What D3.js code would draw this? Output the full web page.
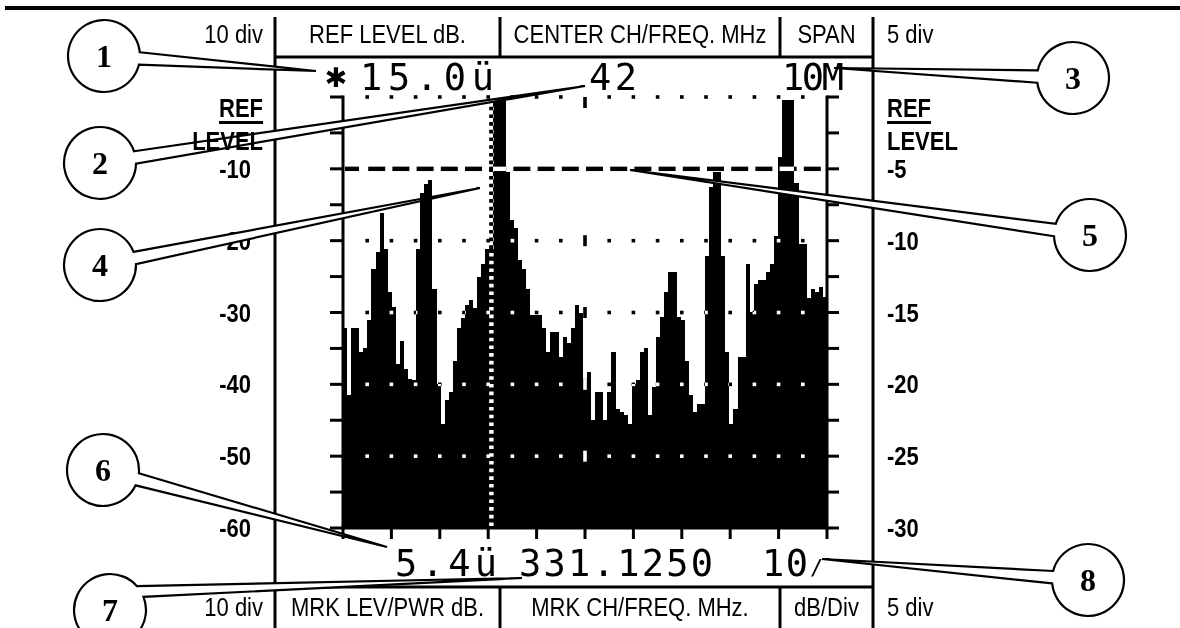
<!DOCTYPE html>
<html>
<head>
<meta charset="utf-8">
<script src="https://cdn.jsdelivr.net/npm/d3@7"></script>
<style>
  html, body { margin: 0; padding: 0; background: #fff; }
  svg { display: block; }
</style>
</head>
<body>
<div id="chart"></div>
<script>
// spectrum trace, dB relative to reference level, one value per LCD column
const levels = [
  -32.2, -41.5, -32.2, -32.2, -35.5, -34.9, -31.1, -23.9, -21.6, -16.1,
  -21.1, -27.1, -29.2, -37.1, -33.9, -37.8, -39.2, -39.4, -21.1, -13.4,
  -12.1, -11.5, -26.7, -39.9, -45.5, -42.2, -41.1, -36.7, -32.2, -30.8,
  -29.0, -28.3, -29.4, -25.0, -23.2, -21.1, -21.1, -0.4, -0.4, -0.4,
  -10.4, -17.1, -18.3, -22.7, -23.9, -26.7, -30.4, -30.4, -30.4, -32.2,
  -35.5, -32.7, -32.7, -36.2, -33.4, -34.3, -32.2, -29.0, -30.0, -39.2,
  -38.3, -45.0, -41.0, -41.0, -45.0, -41.0, -35.5, -43.4, -43.9, -44.3,
  -45.5, -39.9, -39.4, -35.5, -35.0, -44.3, -40.4, -33.4, -30.6, -27.1,
  -24.3, -24.3, -30.6, -31.1, -36.7, -41.5, -43.9, -42.7, -42.7, -22.2,
  -12.5, -10.4, -10.4, -22.2, -35.5, -45.5, -43.4, -36.2, -36.2, -23.2,
  -29.9, -26.0, -25.5, -25.5, -24.3, -23.2, -19.4, -8.3, -0.4, -0.4,
  -0.4, -12.0, -20.4, -20.4, -28.0, -26.7, -27.1, -26.5, -27.8
];

const leftTicks = [-10, -20, -30, -40, -50, -60];   // 10 dB/div scale
const rightTicks = [-5, -10, -15, -20, -25, -30];   // 5 dB/div scale
const dottedRows = [0, -20, -30, -40, -50];
const dashedRow = -10;
const markerDiv = 3.066;                            // marker position, in divisions

const headerTop = ["REF LEVEL dB.", "CENTER CH/FREQ. MHz", "SPAN"];
const headerBottom = ["MRK LEV/PWR dB.", "MRK CH/FREQ. MHz.", "dB/Div"];
const divLabels = ["10 div", "5 div"];
const refLabel = ["REF", "LEVEL"];
const lcdTop = ["15.0\u00fc", "42", "10M"];
const lcdBottom = ["5.4\u00fc", "331.1250", "10"];
const calloutNumbers = ["1", "2", "3", "4", "5", "6", "7", "8"];

// ---- layout ----
const W = 1180, H = 628;
const plot = { left: 343, right: 827, top: 97, bottom: 528 };
const frame = { left: 275, right: 873, sepA: 500, sepB: 780, headTop: 17, headLine: 57, footLine: 587 };

// where each callout circle sits, what it points at, and a turn (deg) of where the pointer leaves the circle
const calloutLayout = [
  { cx: 104, cy: 56, tx: 316, ty: 71, turn: 0 },
  { cx: 100, cy: 163, tx: 585, ty: 86, turn: 0 },
  { cx: 1073, cy: 78, tx: 834, ty: 68, turn: 0 },
  { cx: 100, cy: 265, tx: 480, ty: 188, turn: 0 },
  { cx: 1090, cy: 235, tx: 630, ty: 170, turn: 0 },
  { cx: 103, cy: 470, tx: 387, ty: 547, turn: 0 },
  { cx: 110, cy: 610, tx: 522, ty: 578, turn: -27 },
  { cx: 1088, cy: 580, tx: 822, ty: 559, turn: 0 }
];

const sansFont = "'Liberation Sans', Arial, Helvetica, sans-serif";
const lcdFont = "'DejaVu Sans Mono', 'Liberation Mono', monospace";

const svg = d3.select("#chart").append("svg")
  .attr("width", W)
  .attr("height", H);

svg.append("rect").attr("width", W).attr("height", H).attr("fill", "#fff");

// scales
const x = d3.scaleLinear().domain([0, levels.length]).range([plot.left, plot.right]);
const xDiv = d3.scaleLinear().domain([0, 10]).range([plot.left, plot.right]);
const y = d3.scaleLinear().domain([-60, 0]).range([plot.bottom, plot.top]);
const y2 = d3.scaleLinear().domain([-30, 0]).range([plot.bottom, plot.top]);

// condensed sans text helper
function label(g, txt, px, py, opts = {}) {
  return g.append("text")
    .attr("transform", `translate(${px},${py}) scale(${opts.sx || 0.88},1)`)
    .attr("text-anchor", opts.anchor || "start")
    .attr("dy", opts.dy || null)
    .style("font-family", sansFont)
    .style("font-size", (opts.size || 25) + "px")
    .style("font-weight", opts.weight || "normal")
    .attr("fill", "#000")
    .text(txt);
}

// ---- frame lines ----
const lines = svg.append("g").attr("stroke", "#000").attr("fill", "none");
lines.append("line").attr("x1", 5).attr("x2", W).attr("y1", 8).attr("y2", 8).attr("stroke-width", 4);
[frame.left, frame.right].forEach(v => {
  lines.append("line").attr("x1", v).attr("x2", v).attr("y1", frame.headTop).attr("y2", H).attr("stroke-width", 3);
});
lines.append("line").attr("x1", frame.left).attr("x2", frame.right)
  .attr("y1", frame.headLine).attr("y2", frame.headLine).attr("stroke-width", 3);
lines.append("line").attr("x1", frame.left).attr("x2", frame.right)
  .attr("y1", frame.footLine).attr("y2", frame.footLine).attr("stroke-width", 3);
[frame.sepA, frame.sepB].forEach(v => {
  lines.append("line").attr("x1", v).attr("x2", v).attr("y1", frame.headTop).attr("y2", frame.headLine).attr("stroke-width", 3);
  lines.append("line").attr("x1", v).attr("x2", v).attr("y1", frame.footLine).attr("y2", H).attr("stroke-width", 3);
});

// ---- header / footer text ----
const cellCenters = [(frame.left + frame.sepA) / 2, (frame.sepA + frame.sepB) / 2, (frame.sepB + frame.right) / 2];
headerTop.forEach((t, i) => label(svg, t, cellCenters[i], 43, { anchor: "middle" }));
headerBottom.forEach((t, i) => label(svg, t, cellCenters[i], 616, { anchor: "middle" }));
label(svg, divLabels[0], 263, 43, { anchor: "end" });
label(svg, divLabels[1], 887, 43);
label(svg, divLabels[1], 887, 616);

leftTicks.forEach(v => label(svg, v, 251, y(v), { anchor: "end", weight: "bold", dy: "0.36em" }));
rightTicks.forEach(v => label(svg, v, 887, y2(v), { anchor: "start", weight: "bold", dy: "0.36em" }));

// ---- spectrum trace ----
const area = d3.area()
  .x((d, i) => x(i))
  .y0(y(-60))
  .y1(d => y(d))
  .curve(d3.curveStepAfter);

svg.append("path")
  .datum(levels.concat([levels[levels.length - 1]]))
  .attr("d", area)
  .attr("fill", "#000")
  .attr("shape-rendering", "crispEdges");

// ---- graticule, marker: drawn inverted like the LCD ----
const xor = svg.append("g").style("mix-blend-mode", "difference").attr("fill", "#fff");

dottedRows.forEach(r => {
  d3.range(1, 20).forEach(k => {
    const cx = xDiv(k / 2);
    const tall = k === 10;
    xor.append("rect")
      .attr("x", cx - 1.8)
      .attr("y", y(r) - (tall ? (r === 0 ? 0 : 5.5) : 1.8))
      .attr("width", 3.6)
      .attr("height", tall ? 11 : 3.6);
  });
});

d3.range(0, 20).forEach(k => {
  const x0 = xDiv(k / 2);
  xor.append("rect")
    .attr("x", k === 0 ? x0 + 2 : x0 + 1)
    .attr("y", y(dashedRow) - 2.2)
    .attr("width", k === 0 ? 14 : 17)
    .attr("height", 4.4);
});

xor.append("line")
  .attr("x1", xDiv(markerDiv)).attr("x2", xDiv(markerDiv))
  .attr("y1", y(0) + 2).attr("y2", y(-60) - 2)
  .attr("stroke", "#fff")
  .attr("stroke-width", 4.5)
  .attr("stroke-dasharray", "3.6 4.1");

// ---- axes ----
const ax = svg.append("g").attr("stroke", "#000").attr("stroke-width", 3);
ax.append("line").attr("x1", plot.left).attr("x2", plot.left).attr("y1", plot.top - 1.5).attr("y2", plot.bottom + 1.5);
ax.append("line").attr("x1", plot.right).attr("x2", plot.right).attr("y1", plot.top - 1.5).attr("y2", plot.bottom + 1.5);
ax.append("line").attr("x1", plot.left).attr("x2", plot.right).attr("y1", plot.bottom).attr("y2", plot.bottom);

d3.range(0, -61, -5).forEach(v => {
  ax.append("line").attr("x1", plot.left - 13).attr("x2", plot.left).attr("y1", y(v)).attr("y2", y(v));
  ax.append("line").attr("x1", plot.right).attr("x2", plot.right + 12).attr("y1", y(v)).attr("y2", y(v));
});
xDiv.ticks(10).forEach(v => {
  ax.append("line").attr("x1", xDiv(v)).attr("x2", xDiv(v)).attr("y1", plot.bottom).attr("y2", plot.bottom + 11);
});

// ---- LCD readouts ----
function lcd(txt, px, py, len) {
  return svg.append("text")
    .attr("x", px).attr("y", py)
    .attr("textLength", len)
    .attr("lengthAdjust", "spacing")
    .style("font-family", lcdFont)
    .style("font-size", "37px")
    .attr("fill", "#000")
    .text(txt);
}
svg.append("text")
  .attr("x", 336).attr("y", 87)
  .attr("text-anchor", "middle")
  .style("font-family", "'DejaVu Sans', sans-serif")
  .style("font-size", "27px")
  .text("\u2731");
lcd(lcdTop[0], 360, 90, 134);
lcd(lcdTop[1], 589, 90, 48);
lcd(lcdTop[2], 782, 90, 62);
lcd(lcdBottom[0], 395, 576, 102);
lcd(lcdBottom[1], 519, 576, 194);
lcd(lcdBottom[2], 762, 576, 46);
svg.append("text")
  .attr("x", 810).attr("y", 575)
  .style("font-family", lcdFont)
  .style("font-size", "22px")
  .text("/");

// ---- numbered callouts ----
calloutLayout.forEach((c, i) => {
  const r = 36;
  const ang = Math.atan2(c.ty - c.cy, c.tx - c.cx) + c.turn * Math.PI / 180;
  const d = 10 * Math.PI / 180;
  const a1 = [c.cx + r * Math.cos(ang - d), c.cy + r * Math.sin(ang - d)];
  const a2 = [c.cx + r * Math.cos(ang + d), c.cy + r * Math.sin(ang + d)];
  const p = d3.path();
  p.moveTo(a1[0], a1[1]);
  p.lineTo(c.tx, c.ty);
  p.lineTo(a2[0], a2[1]);
  p.arc(c.cx, c.cy, r, ang + d, ang - d + 2 * Math.PI);
  p.closePath();
  svg.append("path")
    .attr("d", p.toString())
    .attr("fill", "#fff")
    .attr("stroke", "#000")
    .attr("stroke-width", 2.2)
    .attr("stroke-linejoin", "miter");
  svg.append("text")
    .attr("x", c.cx).attr("y", c.cy)
    .attr("dy", "0.35em")
    .attr("text-anchor", "middle")
    .style("font-family", "'Liberation Serif', 'Times New Roman', serif")
    .style("font-weight", "bold")
    .style("font-size", "32px")
    .text(calloutNumbers[i]);
});

// REF LEVEL captions on both sides, kept above the callout pointers
function refCaption(px, anchor) {
  const r = label(svg, refLabel[0], px, 117, { anchor: anchor, weight: "bold" });
  const bb = r.node().getBBox();
  const w = bb.width * 0.88;
  const x0 = anchor === "end" ? px - w : px;
  svg.append("rect").attr("x", x0).attr("y", 121).attr("width", w).attr("height", 3).attr("fill", "#000");
  label(svg, refLabel[1], px, 150, { anchor: anchor, weight: "bold" });
}
refCaption(263, "end");
refCaption(887, "start");

// footer "10 div" drawn last so the callout 7 pointer never covers it
label(svg, divLabels[0], 263, 616, { anchor: "end" });
</script>
</body>
</html>
